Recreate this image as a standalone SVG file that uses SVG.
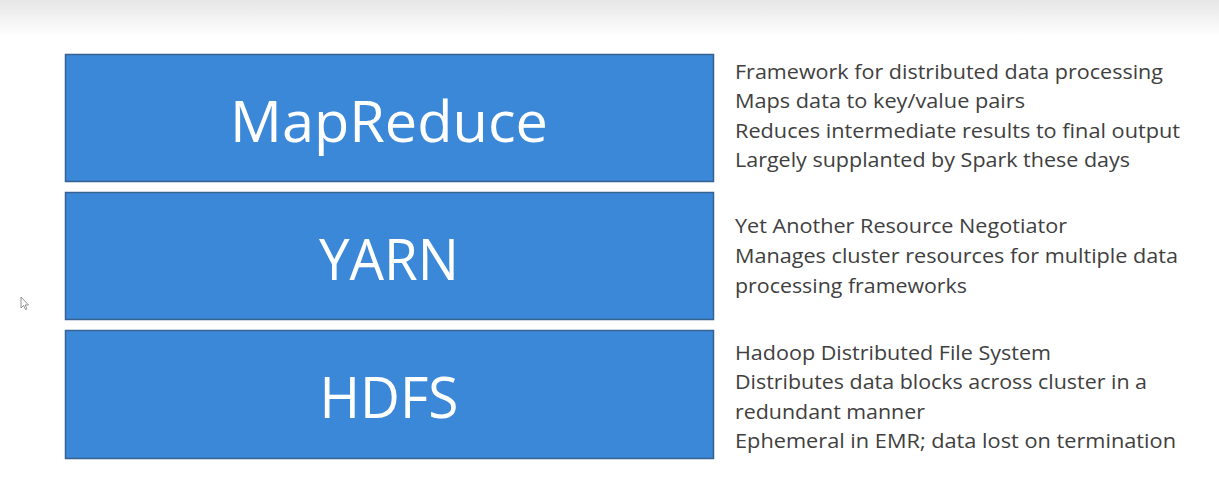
<svg xmlns="http://www.w3.org/2000/svg" width="1219" height="478" viewBox="0 0 1219 478">
<defs>
<linearGradient id="topg" x1="0" y1="0" x2="0" y2="1">
<stop offset="0" stop-color="#e6e6e6"/>
<stop offset="1" stop-color="#ffffff"/>
</linearGradient>
<style>
.box{fill:#3b88d8;stroke:#35628f;stroke-width:1.5}
.title{font-family:"Open Sans","Liberation Sans",sans-serif;font-size:56px;fill:#ffffff;text-anchor:middle}
.desc{font-family:"Open Sans","Liberation Sans",sans-serif;font-size:20px;fill:#404040}
</style>
</defs>
<rect x="0" y="0" width="1219" height="478" fill="#ffffff"/>
<rect x="0" y="0" width="1219" height="36" fill="url(#topg)"/>
<g id="mapreduce">
<rect class="box" x="65.5" y="54.5" width="648" height="127"/>
<text class="title" x="389" y="142" textLength="318" lengthAdjust="spacingAndGlyphs">MapReduce</text>
<text class="desc" x="735" y="79" textLength="428" lengthAdjust="spacingAndGlyphs">Framework for distributed data processing</text>
<text class="desc" x="735" y="108" textLength="290" lengthAdjust="spacingAndGlyphs">Maps data to key/value pairs</text>
<text class="desc" x="735" y="138" textLength="445" lengthAdjust="spacingAndGlyphs">Reduces intermediate results to final output</text>
<text class="desc" x="735" y="167" textLength="395" lengthAdjust="spacingAndGlyphs">Largely supplanted by Spark these days</text>
</g>
<g id="yarn">
<rect class="box" x="65.5" y="192.5" width="648" height="127"/>
<text class="title" x="389" y="280" textLength="140" lengthAdjust="spacingAndGlyphs">YARN</text>
<text class="desc" x="735" y="233" textLength="332" lengthAdjust="spacingAndGlyphs">Yet Another Resource Negotiator</text>
<text class="desc" x="735" y="263" textLength="443" lengthAdjust="spacingAndGlyphs">Manages cluster resources for multiple data</text>
<text class="desc" x="735" y="293" textLength="232" lengthAdjust="spacingAndGlyphs">processing frameworks</text>
</g>
<g id="hdfs">
<rect class="box" x="65.5" y="330.5" width="648" height="128"/>
<text class="title" x="389" y="418" textLength="139" lengthAdjust="spacingAndGlyphs">HDFS</text>
<text class="desc" x="735" y="360" textLength="316" lengthAdjust="spacingAndGlyphs">Hadoop Distributed File System</text>
<text class="desc" x="735" y="389" textLength="412" lengthAdjust="spacingAndGlyphs">Distributes data blocks across cluster in a</text>
<text class="desc" x="735" y="419" textLength="190" lengthAdjust="spacingAndGlyphs">redundant manner</text>
<text class="desc" x="735" y="448" textLength="441" lengthAdjust="spacingAndGlyphs">Ephemeral in EMR; data lost on termination</text>
</g>
<g id="connectors"></g>
<polygon points="21,297 21,308 23.5,305.5 25.5,309.5 27,308.8 25,305 28.5,305" fill="#ffffff" stroke="#777777" stroke-width="0.8"/>
</svg>
